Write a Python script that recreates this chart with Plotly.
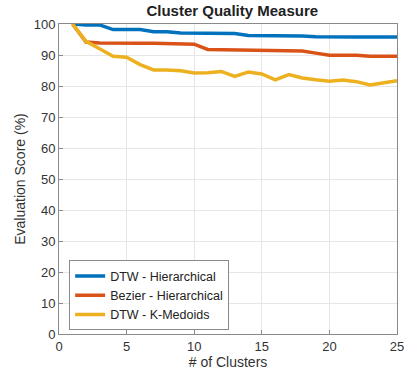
import plotly.graph_objects as go

clusters = list(range(1, 26))
dtw_hier = [100, 99.7, 99.7, 98.2, 98.2, 98.2, 97.5, 97.5, 97.1, 97.1, 96.9, 96.9, 96.9,
            96.3, 96.3, 96.3, 96.1, 96.1, 95.9, 95.8, 95.8, 95.8, 95.8, 95.8, 95.8]
bez_hier = [100, 94.2, 93.9, 93.8, 93.8, 93.8, 93.8, 93.7, 93.7, 93.5, 91.8, 91.7, 91.7,
            91.6, 91.6, 91.5, 91.4, 91.3, 90.6, 89.9, 89.9, 89.9, 89.6, 89.6, 89.6]
dtw_kmed = [100, 94.4, 92.0, 89.6, 89.3, 86.9, 85.2, 85.2, 84.9, 84.2, 84.3, 84.7, 83.1,
            84.5, 83.9, 82.0, 83.7, 82.6, 82.0, 81.5, 81.9, 81.4, 80.3, 81.0, 81.7]
x_ticks = [0, 5, 10, 15, 20, 25]
y_ticks = list(range(0, 101, 10))

names = ["DTW - Hierarchical", "Bezier - Hierarchical", "DTW - K-Medoids"]
colors = ["#0072BD", "#D95319", "#EDB120"]

fig = go.Figure()
for ys, n, c in zip([dtw_hier, bez_hier, dtw_kmed], names, colors):
    fig.add_trace(go.Scatter(x=clusters, y=ys, mode="lines", name=n,
                             line=dict(color=c, width=3.5)))

axis_common = dict(showgrid=True, gridcolor="#e6e6e6", gridwidth=1,
                   showline=True, linecolor="#8a8a8a", linewidth=1, mirror=True,
                   ticks="inside", ticklen=4, tickcolor="#8a8a8a",
                   tickfont=dict(size=13, color="#333333"), zeroline=False,
                   automargin=False)

fig.update_layout(
    width=404, height=372,
    margin=dict(l=59, r=7, t=24, b=38),
    paper_bgcolor="white", plot_bgcolor="white",
    font=dict(family="Liberation Sans, Arial, sans-serif", color="#333333"),
    title=dict(text="<b>Cluster Quality Measure</b>", x=0.575, xanchor="center",
               y=0.985, yanchor="top", font=dict(size=15, color="#222222")),
    xaxis=dict(range=[0, 25.001], tickvals=x_ticks, ticklabeloverflow="allow",
               title=dict(text="# of Clusters", font=dict(size=14), standoff=2),
               **axis_common),
    yaxis=dict(range=[0, 100.001], tickvals=y_ticks,
               title=dict(text="Evaluation Score (%)", font=dict(size=14), standoff=4),
               **axis_common),
    legend=dict(x=0.03, y=0.012, xanchor="left", yanchor="bottom",
                bgcolor="white", bordercolor="#8a8a8a", borderwidth=1,
                font=dict(size=12.5, color="#222222"), tracegroupgap=0,
                itemwidth=30),
    showlegend=True,
)

fig.write_html("out.html", config={"displayModeBar": False},
               post_script="document.body.style.margin='0';document.body.style.overflow='hidden';")
